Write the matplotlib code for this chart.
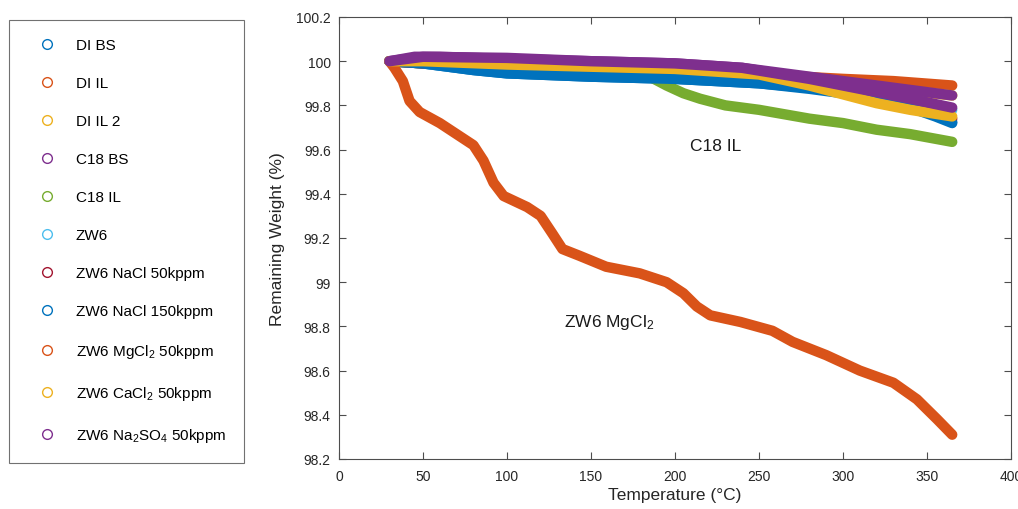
import matplotlib
matplotlib.use("Agg")
import matplotlib.pyplot as plt
from matplotlib.lines import Line2D
from matplotlib.ticker import FormatStrFormatter, MultipleLocator

plt.rcParams['font.family'] = ['Liberation Sans', 'DejaVu Sans']
plt.rcParams['mathtext.fontset'] = 'custom'
plt.rcParams['mathtext.rm'] = 'Liberation Sans'
plt.rcParams['mathtext.it'] = 'Liberation Sans'

# TGA runs: temperature (°C) and remaining weight (%)
labels = ['DI BS', 'DI IL', 'DI IL 2', 'C18 BS', 'C18 IL', 'ZW6',
          'ZW6 NaCl 50kppm', 'ZW6 NaCl 150kppm', 'ZW6 MgCl$_2$ 50kppm',
          'ZW6 CaCl$_2$ 50kppm', 'ZW6 Na$_2$SO$_4$ 50kppm']

di_bs_t = [30, 50, 80, 100, 150, 200, 250, 280, 300, 320, 340, 355, 365]
di_bs_w = [100.0, 99.99, 99.96, 99.945, 99.93, 99.92, 99.90, 99.88, 99.86, 99.84, 99.80, 99.76, 99.725]

di_il_t = [30, 60, 100, 150, 200, 250, 300, 330, 365]
di_il_w = [100.0, 99.99, 99.98, 99.97, 99.96, 99.94, 99.92, 99.91, 99.89]

di_il2_t = [30, 50, 100, 150, 200, 250, 280, 300, 320, 340, 365]
di_il2_w = [100.0, 99.99, 99.975, 99.965, 99.955, 99.94, 99.92, 99.90, 99.88, 99.865, 99.845]

c18_bs_t = [30, 45, 60, 100, 150, 200, 240, 280, 320, 365]
c18_bs_w = [100.0, 100.02, 100.02, 100.01, 100.0, 99.99, 99.97, 99.93, 99.89, 99.845]

c18_il_t = [30, 50, 100, 150, 175, 185, 195, 205, 215, 230, 250, 280, 300, 320, 340, 365]
c18_il_w = [100.0, 99.99, 99.97, 99.96, 99.95, 99.93, 99.89, 99.855, 99.83, 99.80, 99.78,
            99.74, 99.72, 99.69, 99.67, 99.635]

zw6_t = [30, 50, 100, 150, 200, 250, 300, 340, 365]
zw6_w = [100.0, 99.99, 99.95, 99.935, 99.925, 99.905, 99.87, 99.82, 99.78]

nacl50_t = [30, 50, 100, 150, 200, 250, 280, 300, 320, 340, 365]
nacl50_w = [100.0, 99.99, 99.97, 99.955, 99.945, 99.92, 99.89, 99.86, 99.83, 99.79, 99.74]

nacl150_t = [30, 50, 80, 100, 150, 200, 250, 280, 300, 320, 340, 355, 365]
nacl150_w = [100.0, 99.99, 99.96, 99.945, 99.93, 99.92, 99.90, 99.875, 99.855, 99.83, 99.79, 99.75, 99.72]

mgcl2_t = [30, 33, 38, 42, 48, 60, 72, 80, 86, 92, 98, 112, 120, 127, 133, 143, 159,
           179, 195, 205, 213, 221, 239, 258, 270, 290, 310, 330, 344, 356, 365]
mgcl2_w = [100.0, 99.97, 99.91, 99.82, 99.77, 99.72, 99.66, 99.62, 99.55, 99.45, 99.39,
           99.34, 99.30, 99.22, 99.15, 99.12, 99.07, 99.04, 99.0, 98.95, 98.89, 98.85,
           98.82, 98.78, 98.73, 98.67, 98.60, 98.545, 98.47, 98.38, 98.31]

cacl2_t = [30, 50, 100, 150, 200, 250, 280, 300, 320, 340, 365]
cacl2_w = [100.0, 100.0, 99.985, 99.975, 99.965, 99.94, 99.89, 99.85, 99.81, 99.78, 99.75]

na2so4_t = [30, 50, 100, 150, 200, 240, 280, 320, 340, 365]
na2so4_w = [100.0, 100.02, 100.015, 100.0, 99.99, 99.97, 99.92, 99.86, 99.83, 99.79]

temps = [di_bs_t, di_il_t, di_il2_t, c18_bs_t, c18_il_t, zw6_t,
         nacl50_t, nacl150_t, mgcl2_t, cacl2_t, na2so4_t]
weights = [di_bs_w, di_il_w, di_il2_w, c18_bs_w, c18_il_w, zw6_w,
           nacl50_w, nacl150_w, mgcl2_w, cacl2_w, na2so4_w]

colors = ['#0072BD', '#D95319', '#EDB120', '#7E2F8E', '#77AC30', '#4DBEEE',
          '#A2142F', '#0072BD', '#D95319', '#EDB120', '#7E2F8E']

fig = plt.figure(figsize=(10.18, 5.10), dpi=100)
ax = fig.add_axes([339 / 1018, 1 - 460 / 510, 672 / 1018, 442 / 510])

for t, w, c in zip(temps, weights, colors):
    ax.plot(t, w, color=c, lw=7.5, solid_capstyle='round', solid_joinstyle='round')

ax.set_xlim(0, 400)
ax.set_ylim(98.2, 100.2)
ax.xaxis.set_major_locator(MultipleLocator(50))
ax.yaxis.set_major_locator(MultipleLocator(0.2))
ax.yaxis.set_major_formatter(FormatStrFormatter('%g'))
ax.tick_params(direction='in', length=5, width=0.8, color='#4d4d4d',
               top=True, right=True, labelsize=10, labelcolor='#262626')
ax.tick_params(axis='x', pad=7)
ax.tick_params(axis='y', pad=6)
for s in ax.spines.values():
    s.set_color('#4d4d4d')
    s.set_linewidth(0.8)
ax.set_xlabel('Temperature (°C)', fontsize=12.5, color='#262626', labelpad=3)
ax.set_ylabel('Remaining Weight (%)', fontsize=12.5, color='#262626', labelpad=8)

ax.text(224, 99.62, 'C18 IL', fontsize=12.5, ha='center', va='center', color='#1a1a1a')
ax.text(161, 98.82, 'ZW6 MgCl$_2$', fontsize=12.5, ha='center', va='center', color='#1a1a1a')

handles = [Line2D([], [], ls='none', marker='o', mfc='none', mec=c, mew=1.0, ms=7)
           for c in colors]
leg = fig.legend(handles, labels, loc='upper left',
                 bbox_to_anchor=(9 / 1018, 1 - 21 / 510), borderaxespad=0,
                 fontsize=11, labelspacing=1.57, handlelength=2.56,
                 handletextpad=0.61, borderpad=1.2, fancybox=False)
leg.get_frame().set_edgecolor('#4d4d4d')
leg.get_frame().set_linewidth(0.8)

fig.savefig('out.png', dpi=100)
